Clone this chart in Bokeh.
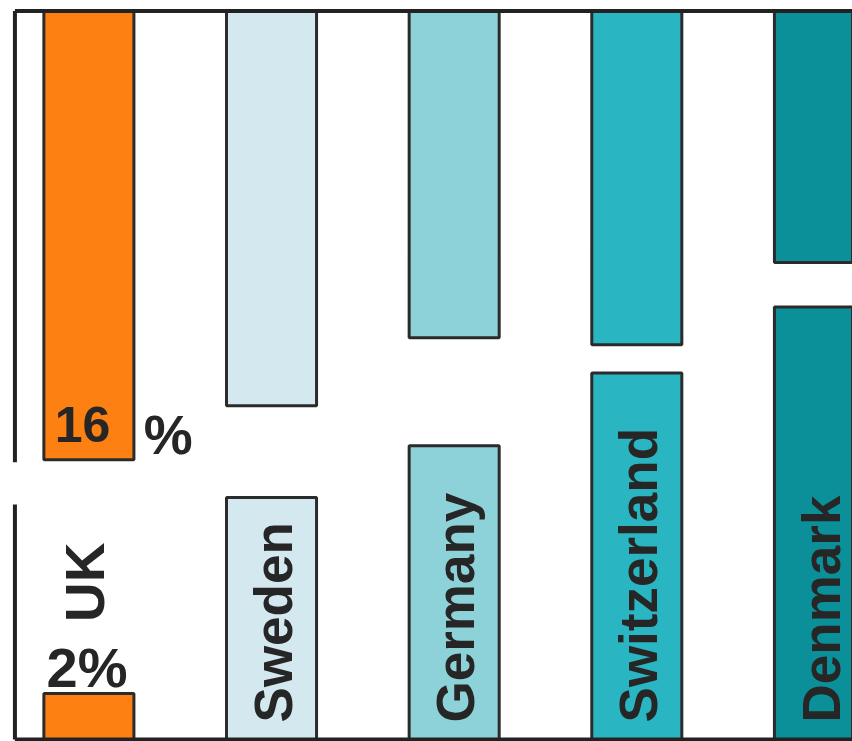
import numpy as np
from bokeh.plotting import figure
from bokeh.models import Range1d, ColumnDataSource
from bokeh.core.properties import value
from bokeh.embed import file_html
from bokeh.resources import INLINE

# ---- data (percent units) ----
countries = ["UK", "Sweden", "Germany", "Switzerland", "Denmark"]
lower_top = [1.95, 10.3, 12.5, 15.6, 18.4]       # top of the lower bar piece
upper_bottom = [11.9, 14.2, 17.1, 16.8, 20.3]    # bottom of the upper bar piece
scale_top = 31.0
axis_break = [10.0, 11.8]
colors = ["#fd8012", "#d3e9ef", "#8dd2d8", "#29b5c1", "#0b8f99"]
uk_big = "16"
uk_pct = "%"
uk_small = "2%"

FONT = value("Liberation Sans")
INK = "#262626"

x = np.arange(len(countries))
src = ColumnDataSource(dict(
    x=x, country=countries, lt=lower_top, ub=upper_bottom,
    top=[scale_top] * len(countries), color=colors,
))

p = figure(width=852, height=741, output_backend="svg", toolbar_location=None,
           x_range=Range1d(-0.484, 4.181), y_range=Range1d(-0.09, 31.45),
           min_border=0, outline_line_color=None)
p.axis.visible = False
p.grid.visible = False
p.background_fill_color = "white"
p.border_fill_color = "white"

bw = 0.493
# lower pieces
p.vbar(x="x", width=bw, bottom=0, top="lt", source=src, fill_color="color",
       line_color="#2b2b2b", line_width=3)
# upper pieces
p.vbar(x="x", width=bw, bottom="ub", top="top", source=src, fill_color="color",
       line_color="#2b2b2b", line_width=3)

# frame: top line, bottom line, broken left axis
ax_x = -0.405
right = 4.3
p.segment(x0=[ax_x, ax_x], y0=[scale_top, 0], x1=[right, right], y1=[scale_top, 0],
          line_color="#222222", line_width=4)
p.segment(x0=[ax_x, ax_x], y0=[0, axis_break[1]], x1=[ax_x, ax_x],
          y1=[axis_break[0], scale_top], line_color="#222222", line_width=4)

# country names in lower pieces (rotated)
p.text(x=x[1:] + 0.01, y=[0.72] * (len(countries) - 1), text=countries[1:],
       angle=np.pi / 2, text_font=FONT, text_font_style="bold",
       text_font_size="53px", text_color=INK, text_align="left",
       text_baseline="middle")
# UK name above its small piece
p.text(x=[x[0] - 0.02], y=[5.0], text=[countries[0]], angle=np.pi / 2,
       text_font=FONT, text_font_style="bold", text_font_size="55px",
       text_color=INK, text_align="left", text_baseline="middle")
# value labels
p.text(x=[x[0] - 0.01], y=[lower_top[0] + 1.12], text=[uk_small], text_font=FONT,
       text_font_style="bold", text_font_size="56px", text_color=INK,
       text_align="center", text_baseline="alphabetic")
p.text(x=[x[0] - 0.035], y=[upper_bottom[0] + 1.5], text=[uk_big], text_font=FONT,
       text_font_style="bold", text_font_size="50px", text_color=INK,
       text_align="center", text_baseline="alphabetic")
p.text(x=[x[0] + 0.3], y=[upper_bottom[0] + 1.05], text=[uk_pct], text_font=FONT,
       text_font_style="bold", text_font_size="55px", text_color=INK,
       text_align="left", text_baseline="alphabetic")

open("out.html", "w").write(file_html(p, INLINE))
